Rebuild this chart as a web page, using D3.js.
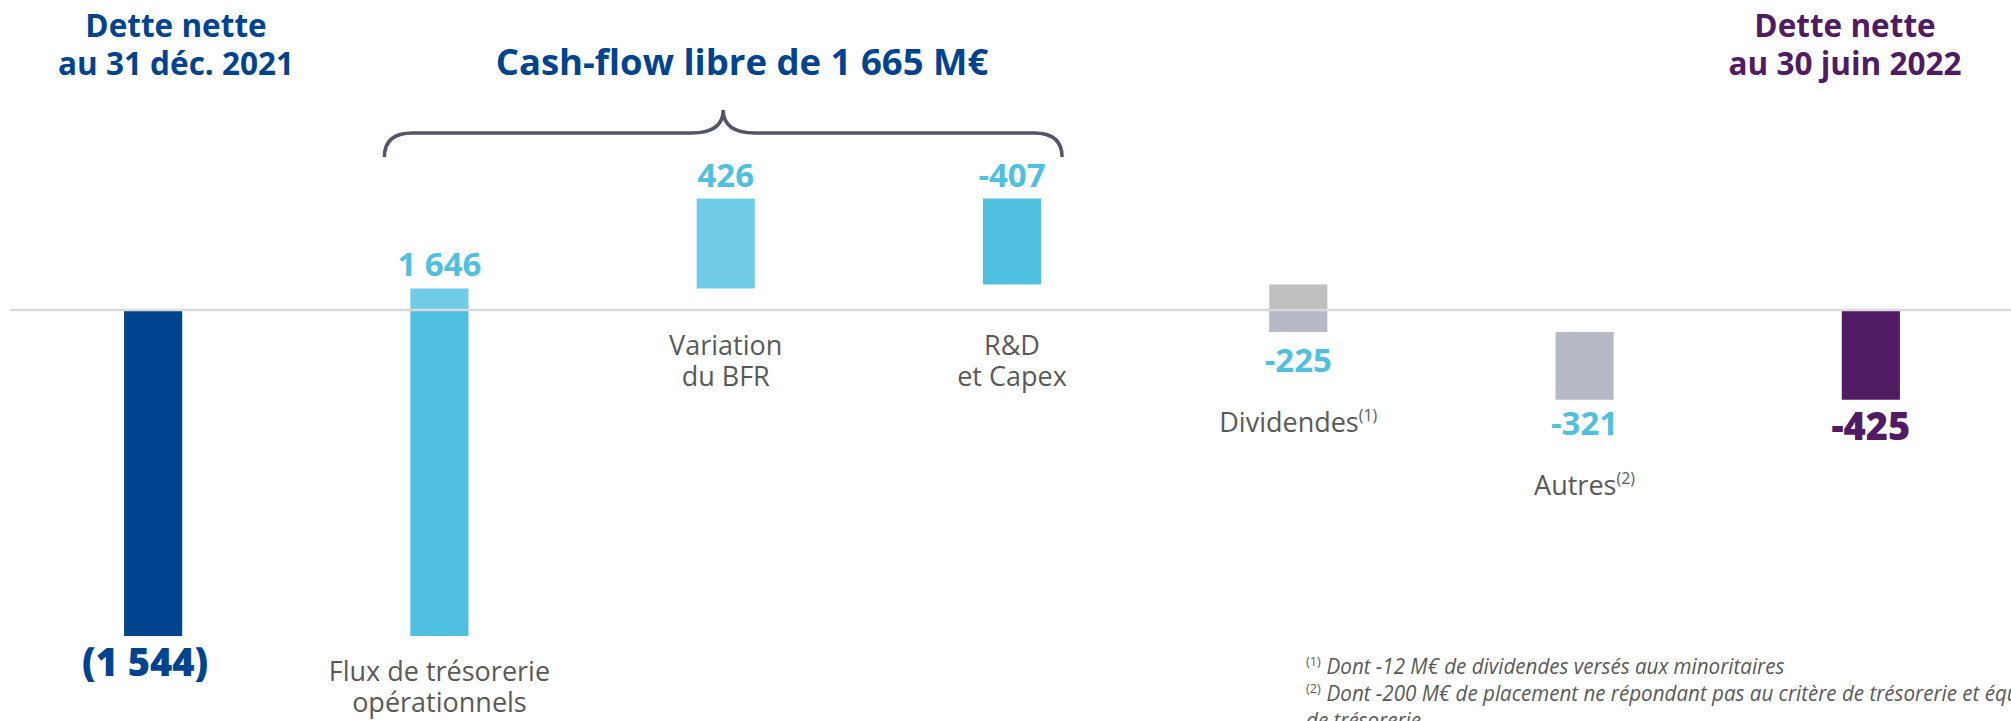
<!DOCTYPE html>
<html>
<head>
<meta charset="utf-8">
<script src="https://cdn.jsdelivr.net/npm/d3@7"></script>
<style>
  body { margin: 0; background: #fff; }
  svg { display: block; font-family: 'Open Sans', 'Noto Sans', sans-serif; }
</style>
</head>
<body>
<div id="chart"></div>
<script>
// waterfall: net debt end 2021 -> end June 2022 (M€)
const categories = ['dette2021', 'flux', 'bfr', 'capex', 'dividendes', 'autres', 'dette2022']
const kinds = ['total', 'delta', 'delta', 'delta', 'delta', 'delta', 'total']
const values = [-1544, 1646, 426, -407, -225, -321, -425]
const valueLabels = ['(1 544)', '1 646', '426', '-407', '-225', '-321', '-425']
const categoryLabels = [
  [],
  ['Flux de trésorerie', 'opérationnels'],
  ['Variation', 'du BFR'],
  ['R&D', 'et Capex'],
  ['Dividendes'],
  ['Autres'],
  []
]
const notes = ['', '', '', '', '(1)', '(2)', '']
const headers = [
  { lines: ['Dette nette', 'au 31 déc. 2021'], color: '#00438f' },
  { lines: ['Dette nette', 'au 30 juin 2022'], color: '#501b63' }
]
const title = 'Cash-flow libre de 1 665 M€'
const footnotes = [
  ['(1)', 'Dont -12 M€ de dividendes versés aux minoritaires'],
  ['(2)', 'Dont -200 M€ de placement ne répondant pas au critère de trésorerie et équivalents'],
  ['', 'de trésorerie']
]

const chart = drawChart()

function drawChart() {
  const width = 2011
  const height = 721
  const barColors = ['#00438f', '#4fc0df', '#70cce6', '#4fc0df', '#b7b9c6', '#b7b9c6', '#501b63']
  const upperColors = ['#00438f', '#70cce6', '#70cce6', '#4fc0df', '#bfbfbf', '#b7b9c6', '#501b63']
  const labelColors = ['#00438f', '#4fc0df', '#4fc0df', '#4fc0df', '#4fc0df', '#4fc0df', '#501b63']
  const labelBelow = [true, false, false, false, true, true, true]
  const grey = '#595959'

  const x = d3.scaleBand()
    .domain(categories)
    .range([10, 2014])
    .paddingInner(0.797)
    .paddingOuter(0.3985)

  const y = d3.scaleLinear()
    .domain([0, -1544])
    .range([310, 636])

  // running totals for the floating bars
  let run = 0
  const data = categories.map((c, i) => {
    let start, end
    if (kinds[i] === 'total') {
      start = 0
      end = values[i]
      run = values[i]
    } else {
      start = run
      end = run + values[i]
      run = end
    }
    return { key: c, i, start, end, lo: Math.min(start, end), hi: Math.max(start, end) }
  })

  function chart(container) {
    const svg = container.append('svg')
      .attr('width', width)
      .attr('height', height)
      .attr('viewBox', `0 0 ${width} ${height}`)

    const bars = svg.append('g').attr('class', 'bars')
      .selectAll('g')
      .data(data)
      .join('g')

    // part below zero
    bars.filter(d => d.lo < 0)
      .append('rect')
      .attr('x', d => x(d.key))
      .attr('width', x.bandwidth())
      .attr('y', d => y(Math.min(d.hi, 0)))
      .attr('height', d => y(d.lo) - y(Math.min(d.hi, 0)))
      .attr('fill', d => barColors[d.i])

    // part above zero
    bars.filter(d => d.hi > 0)
      .append('rect')
      .attr('x', d => x(d.key))
      .attr('width', x.bandwidth())
      .attr('y', d => y(d.hi))
      .attr('height', d => y(Math.max(d.lo, 0)) - y(d.hi))
      .attr('fill', d => upperColors[d.i])

    svg.append('line')
      .attr('x1', 10)
      .attr('x2', width)
      .attr('y1', y(0))
      .attr('y2', y(0))
      .attr('stroke', '#d9d9d9')
      .attr('stroke-width', 2.5)

    const cx = d => x(d.key) + x.bandwidth() / 2
    const labelY = d => {
      if (!labelBelow[d.i]) return y(d.hi) - 12
      return y(d.lo) + (d.key === 'autres' ? 35 : 40)
    }

    svg.append('g').attr('class', 'values')
      .selectAll('text')
      .data(data)
      .join('text')
      .attr('x', d => cx(d) + (d.key === 'dette2021' ? -8 : 0))
      .attr('y', labelY)
      .attr('text-anchor', 'middle')
      .attr('font-weight', d => kinds[d.i] === 'total' ? 800 : 700)
      .attr('font-size', d => (kinds[d.i] === 'total' ? 38 : 33) + 'px')
      .attr('fill', d => labelColors[d.i])
      .text(d => valueLabels[d.i])

    const cats = svg.append('g').attr('class', 'categories')
      .selectAll('text')
      .data(data.filter(d => categoryLabels[d.i].length))
      .join('text')
      .attr('text-anchor', 'middle')
      .attr('font-size', '27px')
      .attr('fill', grey)
      .attr('transform', d => {
        const ty = labelBelow[d.i] ? labelY(d) + 60 : Math.max(y(d.lo), y(0)) + 45
        return `translate(${cx(d)},${ty})`
      })

    cats.each(function(d) {
      const t = d3.select(this)
      categoryLabels[d.i].forEach((line, k) => {
        t.append('tspan').attr('x', 0).attr('y', k * 31).text(line)
      })
      if (notes[d.i]) {
        t.append('tspan').attr('font-size', '16px').attr('dy', -11).text(notes[d.i])
      }
    })

    // headers over the two totals
    const headerX = [176, 1845]
    headers.forEach((h, k) => {
      const t = svg.append('text')
        .attr('text-anchor', 'middle')
        .attr('font-weight', 700)
        .attr('font-size', '31.5px')
        .attr('fill', h.color)
        .attr('transform', `translate(${headerX[k]},0)`)
      h.lines.forEach((line, j) => {
        t.append('tspan').attr('x', 0).attr('y', 37 + j * 38).text(line)
      })
    })

    svg.append('text')
      .attr('text-anchor', 'middle')
      .attr('font-weight', 700)
      .attr('font-size', '36.5px')
      .attr('fill', '#00438f')
      .attr('x', 742)
      .attr('y', 75)
      .text(title)

    // curly brace over the free cash-flow items
    const x0 = x('flux') - 26
    const x1 = x('capex') + x.bandwidth() + 21
    const xm = (x0 + x1) / 2
    const yl = 133
    const p = d3.path()
    p.moveTo(x0, 157)
    p.quadraticCurveTo(x0, yl, x0 + 28, yl)
    p.lineTo(xm - 32, yl)
    p.quadraticCurveTo(xm, yl, xm, 110)
    p.quadraticCurveTo(xm, yl, xm + 32, yl)
    p.lineTo(x1 - 28, yl)
    p.quadraticCurveTo(x1, yl, x1, 157)
    svg.append('path')
      .attr('d', p.toString())
      .attr('fill', 'none')
      .attr('stroke', '#535669')
      .attr('stroke-width', 3.5)

    const fn = svg.append('g')
      .attr('class', 'footnotes')
      .attr('fill', grey)
    footnotes.forEach((f, k) => {
      const t = fn.append('text')
        .attr('transform', `translate(1306,${674 + k * 27}) scale(0.98,1)`)
      if (f[0]) {
        t.append('tspan').attr('font-size', '13px').attr('dy', -8).text(f[0])
      }
      t.append('tspan')
        .attr('x', f[0] ? 21 : 0)
        .attr('dy', f[0] ? 8 : 0)
        .attr('font-size', '21px')
        .attr('font-style', 'italic')
        .text(f[1])
    })
  }

  return chart
}

d3.select('#chart').call(chart)
</script>
</body>
</html>
